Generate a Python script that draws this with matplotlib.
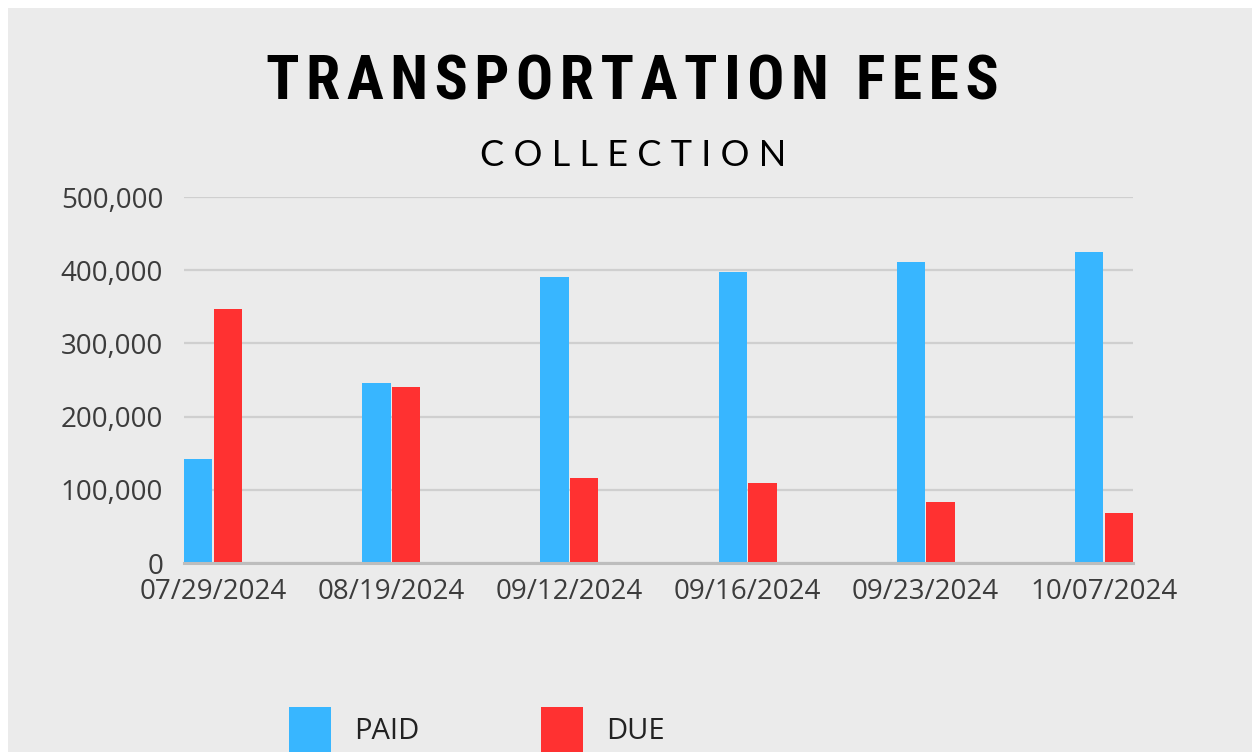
import matplotlib
matplotlib.use("Agg")
import matplotlib.pyplot as plt
import numpy as np
from matplotlib.patches import Rectangle, Patch


# --------------------------------
# DATA
# --------------------------------

dates = ["07/29/2024", "08/19/2024", "09/12/2024",
         "09/16/2024", "09/23/2024", "10/07/2024"]

paid = [142000, 246000, 391000, 398000, 411000, 425000]
due = [347000, 240000, 116000, 109000, 83000, 68000]

y_ticks = [0, 100000, 200000, 300000, 400000, 500000]

series_names = ["PAID", "DUE"]
series_colors = ["#38b6ff", "#ff3131"]

bg = "#ebebeb"


# --------------------------------
# FIGURE
# --------------------------------

fig = plt.figure(figsize=(12.52, 7.52), dpi=100, facecolor="white")

fig.patches.append(
    Rectangle((8 / 1252, 0), 1, 1 - 8 / 752,
              transform=fig.transFigure, facecolor=bg,
              edgecolor="none", zorder=-10)
)

ax = fig.add_axes([184 / 1252, 1 - 563 / 752, (1133 - 184) / 1252, (563 - 197) / 752])
ax.set_facecolor(bg)
ax.patch.set_alpha(0)

x = np.arange(len(dates))
w = 0.158

ax.bar(x - 0.005 - w / 2, paid, width=w, color=series_colors[0], zorder=3)
ax.bar(x + 0.005 + w / 2, due, width=w, color=series_colors[1], zorder=3)

ax.set_xlim(-0.165, len(dates) - 1 + 0.165)
ax.set_ylim(0, 500000)

ax.set_yticks(y_ticks)
ax.set_yticklabels([f"{v:,}" for v in y_ticks])
ax.set_xticks(x)
ax.set_xticklabels(dates)

ax.grid(axis="y", color="#cfcfcf", linewidth=1.6, zorder=0)
for s in ["top", "right", "left"]:
    ax.spines[s].set_visible(False)
ax.spines["bottom"].set_color("#bdbdbd")
ax.spines["bottom"].set_linewidth(2.2)
ax.spines["bottom"].set_zorder(4)

ax.tick_params(axis="both", length=0, labelsize=20,
               labelcolor="#3c3c3c")
ax.tick_params(axis="y", pad=15)
ax.tick_params(axis="x", pad=11)
for lab in ax.get_xticklabels() + ax.get_yticklabels():
    lab.set_fontfamily("Open Sans")


# --------------------------------
# TITLES
# --------------------------------

title = "\u200a".join("TRANSPORTATION FEES")

fig.text(0.505, 1 - 82 / 752, title,
         ha="center", va="center", fontsize=44.5, fontweight="black",
         family=["Roboto Condensed", "Roboto", "DejaVu Sans"], color="black")

fig.text(0.506, 1 - 156 / 752, " ".join("COLLECTION"),
         ha="center", va="center", fontsize=26, fontweight="normal",
         family="Lato", color="black")


# --------------------------------
# LEGEND
# --------------------------------

handles = [Patch(facecolor=c, edgecolor="none") for c in series_colors]
leg = fig.legend(handles, series_names, ncol=2, loc="center left",
                 bbox_to_anchor=(289 / 1252, 1 - 730 / 752),
                 frameon=False, handlelength=1.44, handleheight=2.1,
                 handletextpad=0.8, columnspacing=4.16, borderpad=0,
                 borderaxespad=0,
                 prop={"family": "Open Sans", "size": 21})
for t in leg.get_texts():
    t.set_color("#222222")

fig.savefig("out.png", dpi=100, facecolor=fig.get_facecolor())
